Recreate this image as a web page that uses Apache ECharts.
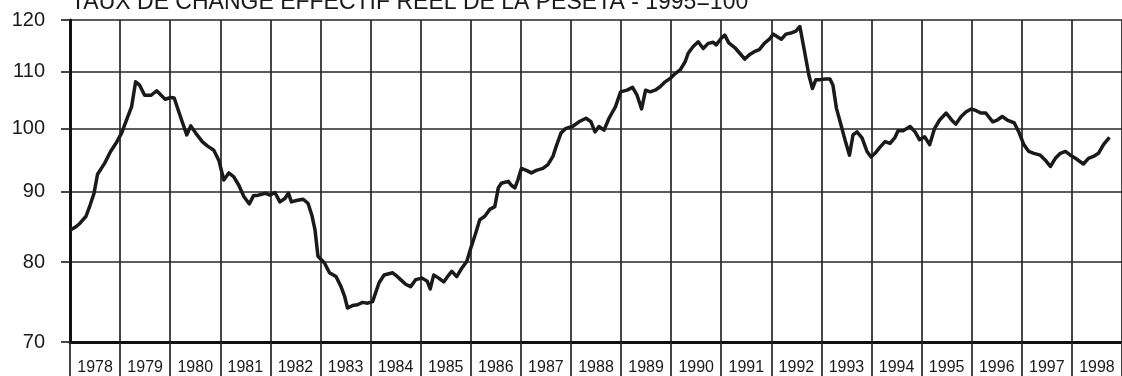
<!DOCTYPE html>
<html>
<head>
<meta charset="utf-8">
<script src="https://cdn.jsdelivr.net/npm/echarts@6/dist/echarts.min.js"></script>
<style>
  html, body { margin: 0; padding: 0; background: #ffffff; }
  #chart { width: 1122px; height: 376px; }
</style>
</head>
<body>
<div id="chart"></div>
<script>
// Taux de change effectif réel de la peseta (base 1995 = 100), données mensuelles 1978-1998
const TITLE = 'TAUX DE CHANGE EFFECTIF REEL DE LA PESETA - 1995=100';

const yearLabels = ['1978', '1979', '1980', '1981', '1982', '1983', '1984', '1985', '1986', '1987',
  '1988', '1989', '1990', '1991', '1992', '1993', '1994', '1995', '1996', '1997', '1998'];

const yTicks = [70, 80, 90, 100, 110, 120];

// date (années décimales)
const dates = [
  1978.00, 1978.12, 1978.20, 1978.32, 1978.40, 1978.48, 1978.55, 1978.69, 1978.81, 1978.93,
  1979.03, 1979.15, 1979.23, 1979.31, 1979.39, 1979.49, 1979.62, 1979.73, 1979.82, 1979.90,
  1980.01, 1980.08, 1980.18, 1980.26, 1980.33, 1980.41, 1980.51, 1980.64, 1980.74, 1980.87,
  1980.97, 1981.07, 1981.17, 1981.27, 1981.37, 1981.47, 1981.58, 1981.66, 1981.76, 1981.90,
  1981.99, 1982.09, 1982.19, 1982.29, 1982.36, 1982.42, 1982.52, 1982.65, 1982.75, 1982.83,
  1982.89, 1982.95, 1983.08, 1983.18, 1983.31, 1983.41, 1983.48, 1983.54, 1983.64, 1983.74,
  1983.84, 1983.94, 1984.04, 1984.10, 1984.17, 1984.27, 1984.44, 1984.50, 1984.60, 1984.70,
  1984.80, 1984.90, 1985.03, 1985.13, 1985.19, 1985.26, 1985.36, 1985.46, 1985.56, 1985.62,
  1985.72, 1985.82, 1985.92, 1985.99, 1986.09, 1986.18, 1986.28, 1986.38, 1986.48, 1986.55,
  1986.61, 1986.75, 1986.81, 1986.88, 1986.94, 1987.01, 1987.11, 1987.21, 1987.31, 1987.44,
  1987.54, 1987.64, 1987.70, 1987.80, 1987.90, 1988.03, 1988.16, 1988.30, 1988.40, 1988.48,
  1988.56, 1988.66, 1988.76, 1988.89, 1988.99, 1989.12, 1989.23, 1989.32, 1989.41, 1989.49,
  1989.58, 1989.68, 1989.78, 1989.88, 1989.98, 1990.08, 1990.18, 1990.28, 1990.34, 1990.44,
  1990.54, 1990.64, 1990.74, 1990.84, 1990.90, 1991.00, 1991.07, 1991.15, 1991.27, 1991.37,
  1991.47, 1991.56, 1991.66, 1991.76, 1991.86, 1991.96, 1992.04, 1992.12, 1992.20, 1992.29,
  1992.39, 1992.49, 1992.57, 1992.65, 1992.75, 1992.82, 1992.89, 1992.98, 1993.08, 1993.17,
  1993.23, 1993.30, 1993.38, 1993.48, 1993.56, 1993.63, 1993.71, 1993.81, 1993.91, 1993.99,
  1994.07, 1994.17, 1994.27, 1994.37, 1994.47, 1994.53, 1994.63, 1994.77, 1994.87, 1994.96,
  1995.06, 1995.16, 1995.26, 1995.36, 1995.49, 1995.59, 1995.68, 1995.79, 1995.89, 1995.99,
  1996.09, 1996.18, 1996.28, 1996.42, 1996.51, 1996.61, 1996.71, 1996.85, 1996.94, 1997.04,
  1997.14, 1997.24, 1997.37, 1997.47, 1997.57, 1997.67, 1997.77, 1997.87, 1997.97, 1998.07,
  1998.16, 1998.23, 1998.33, 1998.43, 1998.53, 1998.63, 1998.75
];

// indice (1995 = 100)
const rate = [
  84.4, 84.9, 85.4, 86.4, 88.0, 89.8, 92.7, 94.4, 96.3, 97.8,
  99.3, 102.0, 103.8, 108.2, 107.6, 105.8, 105.8, 106.6, 105.8, 105.1,
  105.4, 105.3, 102.7, 100.7, 99.0, 100.5, 99.3, 97.9, 97.2, 96.5,
  94.9, 91.8, 92.9, 92.3, 91.0, 89.3, 88.2, 89.4, 89.5, 89.8,
  89.5, 89.9, 88.5, 89.0, 89.8, 88.5, 88.7, 88.9, 88.3, 86.5,
  84.5, 80.8, 79.9, 78.6, 78.1, 76.8, 75.6, 74.1, 74.4, 74.5,
  74.8, 74.7, 74.9, 76.0, 77.3, 78.3, 78.6, 78.3, 77.7, 77.1,
  76.8, 77.7, 77.9, 77.5, 76.5, 78.3, 77.9, 77.4, 78.3, 78.8,
  78.1, 79.2, 80.1, 81.7, 83.8, 85.9, 86.4, 87.4, 87.8, 90.6,
  91.3, 91.6, 91.0, 90.6, 91.8, 93.6, 93.3, 92.9, 93.3, 93.6,
  94.2, 95.5, 97.0, 99.3, 100.1, 100.4, 101.2, 101.8, 101.2, 99.5,
  100.4, 99.8, 101.8, 103.8, 106.4, 106.7, 107.2, 105.8, 103.4, 106.7,
  106.4, 106.7, 107.3, 108.2, 108.8, 109.7, 110.4, 111.9, 113.5, 114.8,
  115.7, 114.4, 115.4, 115.6, 115.1, 116.4, 117.0, 115.5, 114.6, 113.5,
  112.4, 113.2, 113.8, 114.2, 115.4, 116.2, 117.2, 116.7, 116.2, 117.2,
  117.4, 117.8, 118.7, 114.5, 109.4, 107.0, 108.6, 108.6, 108.7, 108.7,
  107.6, 103.5, 101.0, 97.9, 95.7, 99.0, 99.5, 98.5, 96.3, 95.4,
  96.0, 97.0, 97.9, 97.6, 98.6, 99.7, 99.7, 100.4, 99.5, 98.2,
  98.7, 97.4, 100.1, 101.5, 102.7, 101.6, 100.8, 102.1, 102.9, 103.4,
  103.1, 102.7, 102.7, 101.2, 101.5, 102.1, 101.5, 101.0, 99.5, 97.4,
  96.3, 96.0, 95.7, 94.9, 93.9, 95.2, 96.0, 96.3, 95.7, 95.2,
  94.7, 94.3, 95.2, 95.5, 96.0, 97.4, 98.6
];

const FONT = '"Liberation Sans", Arial, Helvetica, sans-serif';
const INK = '#1a1a1a';
const GRID_LINE = { color: '#262626', width: 1.7 };

const chart = echarts.init(document.getElementById('chart'), null, { renderer: 'canvas' });

chart.setOption({
  animation: false,
  backgroundColor: '#ffffff',
  title: {
    text: TITLE,
    left: 66,
    top: -14,
    textStyle: { fontFamily: FONT, fontSize: 23, fontWeight: 'normal', color: INK }
  },
  grid: { left: 70, right: -9, top: 20, bottom: 34, containLabel: false },
  xAxis: [
    {
      type: 'value',
      min: 1978,
      max: 1999,
      interval: 1,
      position: 'bottom',
      axisLine: { show: true, onZero: false, lineStyle: { color: '#111', width: 3 } },
      axisTick: { show: false },
      axisLabel: { show: false },
      splitLine: { show: true, lineStyle: GRID_LINE }
    },
    {
      type: 'category',
      data: yearLabels,
      position: 'bottom',
      boundaryGap: true,
      axisLine: { show: false },
      axisTick: { show: true, interval: 0, length: 34, lineStyle: GRID_LINE },
      axisLabel: { interval: 0, margin: 18, fontSize: 16, color: INK, fontFamily: FONT },
      splitLine: { show: false }
    }
  ],
  yAxis: {
    type: 'log',
    logBase: 10,
    min: 70,
    max: 120,
    axisLine: { show: true, onZero: false, lineStyle: { color: '#111', width: 3 } },
    axisTick: { show: true, length: 9, customValues: yTicks, lineStyle: GRID_LINE },
    axisLabel: { customValues: yTicks, margin: 25, fontSize: 20, color: INK, fontFamily: FONT },
    splitLine: { show: true, lineStyle: GRID_LINE }
  },
  series: [
    {
      type: 'line',
      xAxisIndex: 0,
      data: dates.map((d, i) => [d, rate[i]]),
      showSymbol: false,
      smooth: false,
      lineStyle: { color: INK, width: 3.5, join: 'round' },
      z: 5
    }
  ]
});
</script>
</body>
</html>
